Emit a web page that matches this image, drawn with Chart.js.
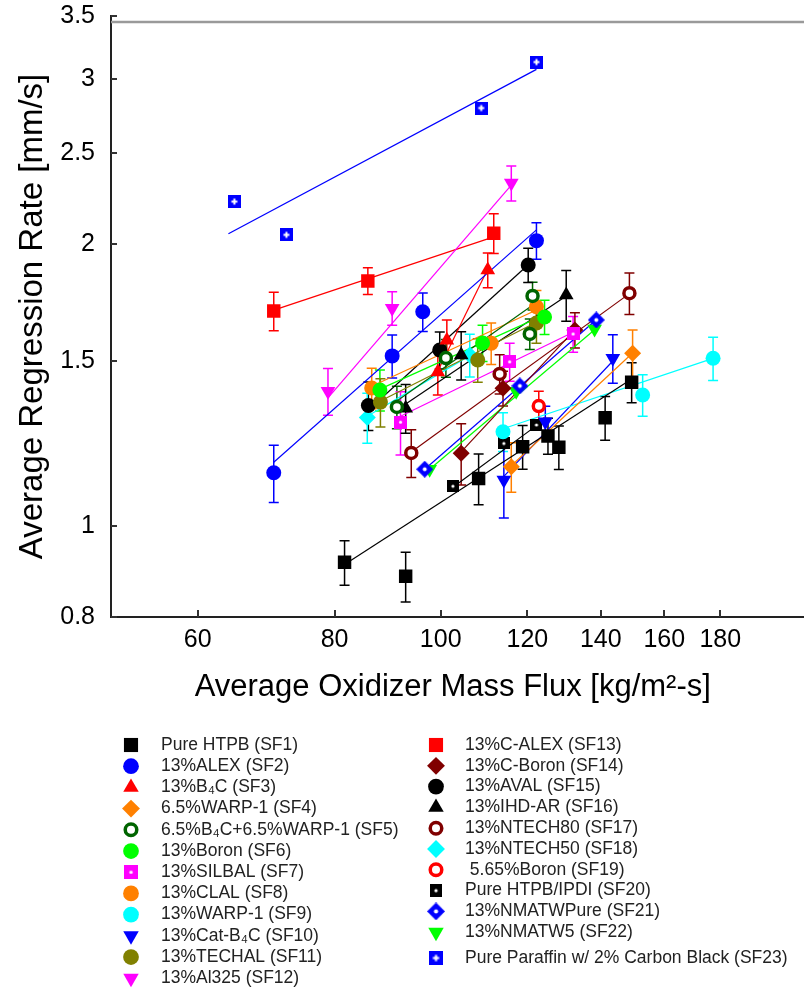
<!DOCTYPE html>
<html><head><meta charset="utf-8">
<script src="https://cdn.jsdelivr.net/npm/chart.js@4.4.1/dist/chart.umd.min.js"></script>
<style>html,body{margin:0;padding:0;background:#fff}canvas{display:block}</style>
</head><body>
<canvas id="c" width="804" height="989"></canvas>
<script>
// ---------------- DATA ----------------
const X_TICKS = [60, 80, 100, 120, 140, 160, 180];
const Y_TICKS = [0.8, 1, 1.5, 2, 2.5, 3, 3.5];

const seriesNames = ['Pure HTPB (SF1)', '13%ALEX (SF2)', '13%B\u2084C (SF3)', '6.5%WARP-1 (SF4)',
  '6.5%B\u2084C+6.5%WARP-1 (SF5)', '13%Boron (SF6)', '13%SILBAL (SF7)', '13%CLAL (SF8)',
  '13%WARP-1 (SF9)', '13%Cat-B\u2084C (SF10)', '13%TECHAL (SF11)', '13%Al325 (SF12)',
  '13%C-ALEX (SF13)', '13%C-Boron (SF14)', '13%AVAL (SF15)', '13%IHD-AR (SF16)',
  '13%NTECH80 (SF17)', '13%NTECH50 (SF18)', ' 5.65%Boron (SF19)', 'Pure HTPB/IPDI (SF20)',
  '13%NMATWPure (SF21)', '13%NMATW5 (SF22)', 'Pure Paraffin w/ 2% Carbon Black (SF23)'];

// mass flux (x), regression rate (y), error (+/-), fit line endpoints [x0,y0,x1,y1]
const sf1X = [81.7, 92.9, 108.3, 118.8, 125.3, 128.2, 141.3, 149.4];
const sf1Y = [0.915, 0.884, 1.124, 1.215, 1.248, 1.214, 1.305, 1.424];
const sf1E = [0.05, 0.054, 0.07, 0.065, 0.055, 0.065, 0.07, 0.07];
const sf1Fit = [81.7, 0.91, 149.4, 1.435];

const sf2X = [70.4, 90.3, 96.3, 122.3];
const sf2Y = [1.14, 1.519, 1.693, 2.016];
const sf2E = [0.08, 0.08, 0.08, 0.09];
const sf2Fit = [70.4, 1.17, 122.3, 2.07];

const sf3X = [99.4, 101.3, 110.4];
const sf3Y = [1.46, 1.579, 1.876];
const sf3E = [0.08, 0.08, 0.08];
const sf3Fit = [99.3, 1.46, 110.4, 1.88];

const sf4X = [116.0, 149.7];
const sf4Y = [1.157, 1.529];
const sf4E = [0.07, 0.09];
const sf4Fit = [116.0, 1.16, 149.7, 1.53];

const sf5X = [91.2, 101.1, 120.6, 121.3];
const sf5Y = [1.34, 1.511, 1.603, 1.76];
const sf5E = [0.07, 0.07, 0.06, 0.06];
const sf5Fit = [91.2, 1.36, 121.3, 1.72];

const sf6X = [88.0, 109.2, 124.4];
const sf6Y = [1.397, 1.568, 1.671];
const sf6E = [0.07, 0.07, 0.07];
const sf6Fit = [88.0, 1.40, 124.4, 1.68];

const sf7X = [91.9, 115.6, 132.1];
const sf7Y = [1.291, 1.497, 1.603];
const sf7E = [0.1, 0.07, 0.07];
const sf7Fit = [91.9, 1.31, 132.1, 1.61];

const sf8X = [86.5, 111.2, 122.3];
const sf8Y = [1.404, 1.567, 1.714];
const sf8E = [0.07, 0.08, 0.07];
const sf8Fit = [86.5, 1.41, 122.3, 1.70];

const sf9X = [114.0, 152.9, 177.3];
const sf9Y = [1.261, 1.38, 1.51];
const sf9E = [0.06, 0.07, 0.08];
const sf9Fit = [114.0, 1.27, 177.3, 1.51];

const sf10X = [114.2, 124.6, 143.6];
const sf10Y = [1.12, 1.292, 1.51];
const sf10E = [0.1, 0.05, 0.09];
const sf10Fit = [114.2, 1.13, 143.6, 1.50];

const sf11X = [88.1, 108.1, 122.3];
const sf11Y = [1.356, 1.504, 1.647];
const sf11E = [0.08, 0.08, 0.08];
const sf11Fit = [88.1, 1.36, 122.3, 1.65];

const sf12X = [78.9, 90.3, 116.0];
const sf12Y = [1.393, 1.708, 2.322];
const sf12E = [0.08, 0.07, 0.10];
const sf12Fit = [78.9, 1.37, 116.0, 2.31];

const sf13X = [70.4, 85.8, 111.8];
const sf13Y = [1.696, 1.826, 2.053];
const sf13E = [0.08, 0.06, 0.1];
const sf13Fit = [70.4, 1.70, 111.8, 2.035];

const sf14X = [104.4, 114.0, 132.6];
const sf14Y = [1.196, 1.403, 1.619];
const sf14E = [0.09, 0.06, 0.07];
const sf14Fit = [104.4, 1.20, 132.6, 1.62];

const sf15X = [85.9, 99.8, 120.2];
const sf15Y = [1.345, 1.541, 1.899];
const sf15E = [0.08, 0.07, 0.08];
const sf15Fit = [85.9, 1.33, 120.2, 1.90];

const sf16X = [92.9, 104.4, 130.2];
const sf16Y = [1.336, 1.522, 1.764];
const sf16E = [0.08, 0.09, 0.11];
const sf16Fit = [92.9, 1.35, 130.2, 1.76];

const sf17X = [94.0, 113.2, 148.7];
const sf17Y = [1.197, 1.453, 1.772];
const sf17E = [0.07, 0.07, 0.09];
const sf17Fit = [94.0, 1.20, 148.7, 1.77];

const sf18X = [85.7, 106.3];
const sf18Y = [1.306, 1.522];
const sf18E = [0.08, 0.08];
const sf18Fit = [85.7, 1.31, 106.3, 1.52];

const sf19X = [122.9];
const sf19Y = [1.343];
const sf19E = [0.05];
const sf19Fit = null;

const sf20X = [102.6, 114.2, 122.3];
const sf20Y = [1.103, 1.225, 1.282];
const sf20E = null;
const sf20Fit = [102.6, 1.10, 122.3, 1.28];

const sf21X = [96.7, 118.1, 138.7];
const sf21Y = [1.15, 1.411, 1.659];
const sf21E = null;
const sf21Fit = [96.7, 1.15, 138.7, 1.66];

const sf22X = [97.7, 117.2, 138.2];
const sf22Y = [1.15, 1.393, 1.623];
const sf22E = null;
const sf22Fit = [97.7, 1.15, 138.2, 1.62];

const sf23X = [64.8, 72.3, 108.9, 122.3];
const sf23Y = [2.219, 2.045, 2.792, 3.126];
const sf23E = null;
const sf23Fit = [64.0, 2.05, 122.3, 3.07];

const allX = [sf1X, sf2X, sf3X, sf4X, sf5X, sf6X, sf7X, sf8X, sf9X, sf10X, sf11X, sf12X, sf13X, sf14X, sf15X, sf16X, sf17X, sf18X, sf19X, sf20X, sf21X, sf22X, sf23X];
const allY = [sf1Y, sf2Y, sf3Y, sf4Y, sf5Y, sf6Y, sf7Y, sf8Y, sf9Y, sf10Y, sf11Y, sf12Y, sf13Y, sf14Y, sf15Y, sf16Y, sf17Y, sf18Y, sf19Y, sf20Y, sf21Y, sf22Y, sf23Y];
const allE = [sf1E, sf2E, sf3E, sf4E, sf5E, sf6E, sf7E, sf8E, sf9E, sf10E, sf11E, sf12E, sf13E, sf14E, sf15E, sf16E, sf17E, sf18E, sf19E, sf20E, sf21E, sf22E, sf23E];
const allFit = [sf1Fit, sf2Fit, sf3Fit, sf4Fit, sf5Fit, sf6Fit, sf7Fit, sf8Fit, sf9Fit, sf10Fit, sf11Fit, sf12Fit, sf13Fit, sf14Fit, sf15Fit, sf16Fit, sf17Fit, sf18Fit, sf19Fit, sf20Fit, sf21Fit, sf22Fit, sf23Fit];

// ---------------- STYLES ----------------
const FONT = '"Liberation Sans", Arial, Helvetica, sans-serif';
function mk(size, draw) { const c = document.createElement('canvas'); c.width = size; c.height = size; draw(c.getContext('2d'), size); return c; }
function sqDot(color, s) { return mk(s, (g, n) => { g.fillStyle = color; g.fillRect(0, 0, n, n); g.fillStyle = '#fff'; g.beginPath(); g.arc(n / 2, n / 2, 1.6, 0, Math.PI * 2); g.fill(); }); }
function sqPlus(color, s) { return mk(s, (g, n) => { g.fillStyle = color; g.fillRect(0, 0, n, n); g.fillStyle = '#fff'; g.fillRect(n / 2 - 1, n / 2 - 3, 2, 6); g.fillRect(n / 2 - 3, n / 2 - 1, 6, 2); }); }
function diaDot(color, s) { return mk(s, (g, n) => { g.fillStyle = color; g.beginPath(); g.moveTo(n / 2, 0); g.lineTo(n, n / 2); g.lineTo(n / 2, n); g.lineTo(0, n / 2); g.closePath(); g.fill(); g.fillStyle = '#fff'; g.beginPath(); g.arc(n / 2, n / 2, 2, 0, Math.PI * 2); g.fill(); }); }

const C = { k: '#000000', b: '#0000ff', r: '#ff0000', o: '#ff8000', dg: '#006400', l: '#00ff00', m: '#ff00ff', c: '#00ffff', ol: '#808000', dr: '#800000' };
const marks = [
  { c: C.k, s: 'rect', r: 9.5 },
  { c: C.b, s: 'circle', r: 7.5 },
  { c: C.r, s: 'triangle', r: 8.5 },
  { c: C.o, s: 'rectRot', r: 8.5 },
  { c: C.dg, s: 'circle', r: 5.5, ring: true },
  { c: C.l, s: 'circle', r: 7.5 },
  { c: C.m, img: sqDot(C.m, 13) },
  { c: C.o, s: 'circle', r: 7.5 },
  { c: C.c, s: 'circle', r: 7.5 },
  { c: C.b, s: 'triangle', r: 8.5, rot: 180 },
  { c: C.ol, s: 'circle', r: 7.5 },
  { c: C.m, s: 'triangle', r: 8.5, rot: 180 },
  { c: C.r, s: 'rect', r: 9.5 },
  { c: C.dr, s: 'rectRot', r: 8.5 },
  { c: C.k, s: 'circle', r: 7.5 },
  { c: C.k, s: 'triangle', r: 8.5 },
  { c: C.dr, s: 'circle', r: 5.5, ring: true },
  { c: C.c, s: 'rectRot', r: 8.5 },
  { c: C.r, s: 'circle', r: 5.5, ring: true },
  { c: C.k, img: sqDot(C.k, 12) },
  { c: C.b, img: diaDot(C.b, 17) },
  { c: C.l, s: 'triangle', r: 8.5, rot: 180 },
  { c: C.b, img: sqPlus(C.b, 13) }
];

// ---------------- DATASETS ----------------
const datasets = [];
seriesNames.forEach((name, i) => {
  const m = marks[i];
  datasets.push({
    type: 'scatter', label: name,
    data: allX[i].map((x, j) => ({ x: x, y: allY[i][j] })),
    errors: allE[i], errColor: m.c,
    pointStyle: m.img ? m.img : m.s,
    pointRadius: m.img ? 7 : m.r,
    pointRotation: m.rot || 0,
    backgroundColor: m.ring ? '#ffffff' : m.c,
    borderColor: m.c,
    borderWidth: m.ring ? 3.5 : 0,
    pointHoverRadius: m.r, showLine: false
  });
});
seriesNames.forEach((name, i) => {
  const f = allFit[i];
  if (!f) return;
  datasets.push({
    type: 'line', label: name + ' fit',
    data: [{ x: f[0], y: f[1] }, { x: f[2], y: f[3] }],
    borderColor: marks[i].c, borderWidth: 1.2, pointRadius: 0, fill: false, tension: 0
  });
});

// ---------------- PLUGINS ----------------
const errorBars = {
  id: 'errorBars',
  beforeDatasetsDraw(chart) {
    const { ctx, scales: { x, y } } = chart;
    ctx.save();
    chart.data.datasets.forEach(ds => {
      if (!ds.errors) return;
      ds.data.forEach((p, i) => {
        const e = ds.errors[i]; if (!e) return;
        const px = x.getPixelForValue(p.x);
        const yt = y.getPixelForValue(p.y + e), yb = y.getPixelForValue(p.y - e);
        ctx.strokeStyle = ds.errColor; ctx.lineWidth = 1.5;
        ctx.beginPath();
        ctx.moveTo(px, yb); ctx.lineTo(px, yt);
        ctx.moveTo(px - 5, yt); ctx.lineTo(px + 5, yt);
        ctx.moveTo(px - 5, yb); ctx.lineTo(px + 5, yb);
        ctx.stroke();
      });
    });
    ctx.restore();
  }
};

function drawMarker(ctx, m, x, y, k) {
  ctx.save();
  if (m.img) { ctx.drawImage(m.img, x - m.img.width / 2 * k, y - m.img.height / 2 * k, m.img.width * k, m.img.height * k); ctx.restore(); return; }
  const r = m.r * k;
  ctx.fillStyle = m.ring ? '#fff' : m.c; ctx.strokeStyle = m.c; ctx.lineWidth = 3.5;
  ctx.beginPath();
  if (m.s === 'circle') ctx.arc(x, y, r, 0, Math.PI * 2);
  else if (m.s === 'rect') { const h = r * Math.SQRT1_2; ctx.rect(x - h, y - h, 2 * h, 2 * h); }
  else if (m.s === 'rectRot') { ctx.moveTo(x, y - r); ctx.lineTo(x + r, y); ctx.lineTo(x, y + r); ctx.lineTo(x - r, y); ctx.closePath(); }
  else if (m.s === 'triangle') {
    const sgn = m.rot ? -1 : 1;
    ctx.moveTo(x, y - sgn * r);
    ctx.lineTo(x + r * Math.sin(2 * Math.PI / 3), y + sgn * r / 2);
    ctx.lineTo(x - r * Math.sin(2 * Math.PI / 3), y + sgn * r / 2);
    ctx.closePath();
  }
  ctx.fill();
  if (m.ring) ctx.stroke();
  ctx.restore();
}

const decorations = {
  id: 'decorations',
  afterDraw(chart) {
    const { ctx, chartArea: a, scales: { x, y } } = chart;
    ctx.save();
    // grey top frame line
    ctx.strokeStyle = '#9a9a9a'; ctx.lineWidth = 2.5;
    ctx.beginPath(); ctx.moveTo(a.left, 22); ctx.lineTo(chart.width, 22); ctx.stroke();
    // bottom axis continues to the figure edge
    ctx.strokeStyle = '#222'; ctx.lineWidth = 2;
    ctx.beginPath(); ctx.moveTo(a.right - 1, a.bottom); ctx.lineTo(chart.width, a.bottom); ctx.stroke();
    // inward tick marks
    ctx.strokeStyle = '#333'; ctx.lineWidth = 2;
    ctx.beginPath();
    X_TICKS.forEach(v => { const px = Math.round(x.getPixelForValue(v)); ctx.moveTo(px, a.bottom); ctx.lineTo(px, a.bottom - 7); });
    Y_TICKS.forEach(v => { const py = Math.round(y.getPixelForValue(v)); ctx.moveTo(a.left, py); ctx.lineTo(a.left + 6, py); });
    ctx.stroke();
    // legend in two columns
    ctx.font = '17.5px ' + FONT; ctx.textBaseline = 'middle'; ctx.textAlign = 'left';
    seriesNames.forEach((name, i) => {
      let mx, tx, yy;
      if (i < 12) { mx = 131; tx = 161; yy = 745 + i * 21.2; }
      else { const j = i - 12; mx = 436; tx = 465; yy = j < 10 ? 745 + j * 20.8 : 958; }
      drawMarker(ctx, marks[i], mx, yy, 1.05);
      ctx.fillStyle = '#222';
      ctx.fillText(name, tx, yy);
    });
    ctx.restore();
  }
};

// ---------------- CHART ----------------
new Chart(document.getElementById('c'), {
  type: 'scatter',
  data: { datasets: datasets },
  options: {
    responsive: false, devicePixelRatio: 1, animation: false,
    layout: { padding: { top: 16, left: 0, right: 1, bottom: 272 } },
    plugins: { legend: { display: false }, tooltip: { enabled: false } },
    scales: {
      x: {
        type: 'logarithmic', min: 50, max: 210.4,
        afterBuildTicks: s => { s.ticks = X_TICKS.map(v => ({ value: v })); },
        afterFit: s => { s.height = 100; s.paddingLeft = 0; s.paddingRight = 0; },
        ticks: { autoSkip: false, maxRotation: 0, minRotation: 0, padding: 8, color: '#000', font: { family: FONT, size: 25 }, callback: v => String(v) },
        grid: { drawOnChartArea: false, drawTicks: false },
        border: { display: true, color: '#222', width: 2 },
        title: { display: true, text: 'Average Oxidizer Mass Flux [kg/m\u00b2-s]', color: '#000', font: { family: FONT, size: 31 }, padding: { top: 0, bottom: 11 } }
      },
      y: {
        type: 'logarithmic', min: 0.8, max: 3.5,
        afterBuildTicks: s => { s.ticks = Y_TICKS.map(v => ({ value: v })); },
        afterFit: s => { s.width = 111; s.paddingTop = 0; s.paddingBottom = 0; },
        ticks: { autoSkip: false, padding: 16, color: '#000', font: { family: FONT, size: 25 }, callback: v => String(v) },
        grid: { drawOnChartArea: false, drawTicks: false },
        border: { display: true, color: '#222', width: 2 },
        title: { display: true, align: 'center', text: 'Average Regression Rate [mm/s]', color: '#000', font: { family: FONT, size: 33 }, padding: { top: 13, bottom: 0 } }
      }
    }
  },
  plugins: [errorBars, decorations]
});
</script>
</body></html>
